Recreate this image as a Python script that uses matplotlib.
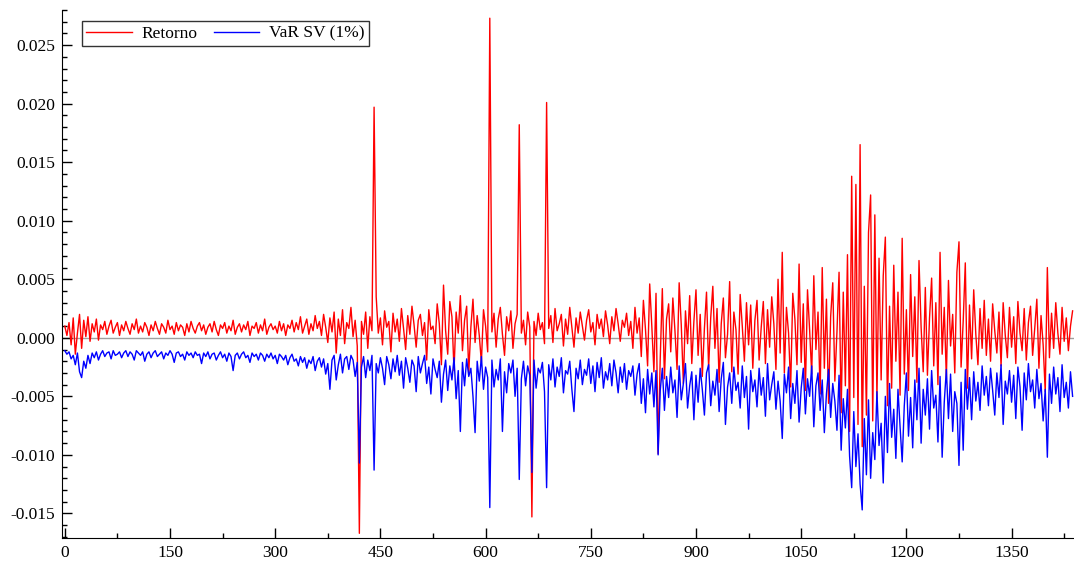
import numpy as np
import matplotlib
matplotlib.use("Agg")
import matplotlib.pyplot as plt
from matplotlib.ticker import MultipleLocator, FormatStrFormatter

# observations read every 3 periods, values in units of 1e-3
step = 3

retorno = [
    1.0, 0.2, 1.3, -0.6, 1.7, -1.4, 0.4, 2.0, -0.9, 1.5,
    0.1, 1.8, -0.3, 1.2, 0.5, 1.6, -0.2, 1.1, 0.7, 1.4,
    0.3, 1.0, 1.5, 0.4, 0.9, 1.3, 0.2, 1.1, 0.6, 1.4,
    0.8, 0.3, 1.2, 0.7, 1.6, 0.4, 1.0, 0.5, 1.3, 0.9,
    0.2, 1.1, 0.6, 1.4, 0.8, 0.3, 1.2, 0.9, 0.4, 1.5,
    0.7, 1.0, 0.3, 1.3, 0.6, 1.1, 0.9, 0.2, 1.2, 0.5,
    1.4, 0.8, 0.4, 1.0, 1.3, 0.6, 1.1, 0.3, 0.9, 1.2,
    0.5, 1.4, 0.7, 0.2, 1.1, 0.8, 1.3, 0.4, 1.0, 0.6,
    1.5, 0.3, 0.9, 1.2, 0.5, 1.1, 0.7, 1.4, 0.2, 1.0,
    0.8, 1.3, 0.4, 1.1, 0.6, 1.6, 0.3, 0.9, 1.2, 0.7,
    1.0, 0.4, 1.4, 0.6, 1.2, 0.2, 1.1, 0.8, 1.5, 0.5,
    1.3, 0.7, 1.8, 0.4, 1.0, 1.6, 0.3, 1.2, 0.6, 1.9,
    0.8, 1.4, 0.2, 2.0, 0.9, -0.4, 1.7, 0.5, 2.2, -1.3,
    1.6, 0.2, 2.4, -0.5, 1.3, 0.8, 2.6, 0.1, 1.5, -0.7,
    -16.7, 1.4, 0.3, 2.2, -0.9, 1.8, 0.6, 19.7, 3.5, 0.4,
    1.7, -0.6, 2.3, 0.9, 1.4, -1.2, 2.1, 0.5, 1.6, -0.3,
    2.5, 0.8, -1.0, 1.9, 0.3, 2.7, 1.1, -0.8, 1.5, 2.0,
    0.2, 1.3, -1.9, 2.4, 0.7, 1.0, -0.5, 2.9, 1.2, -2.3,
    4.5, 0.6, -1.4, 3.1, 1.8, -2.8, 2.2, 0.4, 3.6, -1.1,
    1.5, 2.7, -3.0, 0.9, 3.3, -0.4, 1.9, 0.2, -2.1, 2.4,
    1.0, -1.2, 27.3, 0.5, 2.1, -0.8, 1.6, 2.6, 0.3, -1.5,
    1.8, 0.6, 2.3, -0.9, 1.2, 2.0, 18.2, 0.4, 1.5, -0.6,
    2.2, 0.9, -15.3, 1.4, 0.2, 2.1, 0.7, 1.3, -0.5, 20.1,
    0.8, 1.9, -0.4, 2.5, 0.6, 1.2, 2.0, -0.7, 1.6, 0.3,
    2.6, 0.9, -0.8, 1.7, 0.4, 2.2, 1.0, -0.2, 1.5, 2.4,
    0.5, 1.3, -0.6, 2.0, 0.8, 1.6, 0.1, 2.3, 1.1, -0.5,
    1.8, 0.6, 2.5, 1.2, -0.3, 1.5, 0.9, 2.1, 0.2, 1.4,
    -0.9, 2.6, 0.4, 1.7, -1.6, 3.2, 0.7, -2.4, 4.6, 1.0,
    -2.9, 3.8, -9.9, -1.8, 4.2, -3.5, 1.6, 2.9, -1.2, 3.4,
    0.6, -2.7, 4.7, 1.1, -3.9, 2.3, -0.5, 3.6, -2.2, 1.4,
    4.1, -1.5, 2.0, -3.3, 0.8, 3.9, -2.6, 1.7, 4.4, -0.9,
    2.5, -3.8, 1.2, 3.4, -1.7, 0.3, 4.8, -2.9, 2.2, 0.7,
    -3.1, 3.7, 1.0, -2.0, 3.0, -0.6, 2.8, -2.6, 1.5, 3.2,
    -1.9, 0.9, 3.1, -2.2, 2.4, -0.8, 3.5, 1.2, -2.7, 5.0,
    -1.3, 7.3, -3.0, 2.6, 0.4, -4.2, 3.8, 1.6, -2.3, 6.3,
    -2.1, 2.9, -4.5, 4.1, 0.7, -3.1, 5.3, -1.0, 2.2, -4.8,
    6.0, -2.6, 3.3, -5.6, 1.8, 4.7, -3.7, 0.5, 5.6, -6.4,
    3.9, -4.1, 7.1, -8.0, 13.8, -5.1, 13.1, -7.4, 16.5, -9.3,
    4.4, -6.6, 9.0, 12.2, -7.1, 10.5, -5.2, 6.8, -3.6, 5.3,
    8.6, -5.8, 2.7, -4.3, 6.2, -2.0, 3.9, -4.9, 8.5, -3.1,
    2.4, -4.5, 5.4, -1.6, 3.5, -3.8, 6.6, 0.9, -2.9, 4.3,
    -3.2, 1.7, 5.1, -2.4, 3.0, -4.0, 7.3, -1.4, 2.6, -3.5,
    4.9, -0.7, 2.0, -3.0, 5.6, 8.2, -2.5, 1.4, 6.4, -4.3,
    2.8, -1.8, 4.1, 0.3, -2.3, 2.5, -0.9, 3.2, -1.5, 1.6,
    -2.0, 2.9, 0.6, -1.3, 2.2, -2.4, 3.0, 0.2, -1.7, 2.6,
    -0.8, 1.8, -2.2, 3.1, 0.4, -1.1, 2.5, -1.9, 1.3, 2.7,
    -1.5, 0.8, 3.3, -2.6, 1.9, -0.6, -4.6, 6.0, -1.7, 2.1,
    -0.9, 3.0, 0.4, -1.4, 2.6, -0.3, 1.7, -1.1, 1.0, 2.3,
]

var_sv = [
    -1.1, -1.4, -1.2, -1.8, -1.5, -2.3, -1.3, -2.9, -3.4, -2.0,
    -2.6, -1.5, -2.2, -1.3, -1.7, -1.2, -1.9, -1.4, -1.1, -1.6,
    -1.3, -1.2, -1.8, -1.1, -1.5, -1.4, -1.2, -1.7, -1.3, -1.1,
    -1.6, -1.2, -1.4, -1.9, -1.1, -1.3, -1.5, -1.2, -2.0, -1.4,
    -1.2, -1.7, -1.3, -1.1, -1.6, -1.4, -1.2, -1.8, -1.3, -1.5,
    -1.1, -1.4, -2.1, -1.3, -1.2, -1.6, -1.4, -1.9, -1.2, -1.5,
    -1.3, -1.7, -1.2, -1.5, -1.4, -2.2, -1.3, -1.6, -1.2, -1.8,
    -1.4, -1.3, -1.9, -1.5, -1.2, -1.7, -1.4, -2.0, -1.3, -1.6,
    -2.8, -1.5, -1.3, -1.8, -1.4, -1.2, -1.7, -1.5, -2.1, -1.3,
    -1.6, -1.4, -1.9, -1.3, -1.5, -2.0, -1.4, -1.7, -1.3, -1.8,
    -1.5, -2.2, -1.4, -1.6, -1.9, -1.5, -2.3, -1.7, -1.4, -2.0,
    -1.8, -2.4, -1.6, -2.1, -1.7, -2.6, -1.9, -2.2, -1.6, -2.8,
    -2.0, -1.7, -2.5, -1.8, -3.1, -2.2, -4.4, -1.9, -1.5, -3.6,
    -2.3, -1.4, -3.0, -1.8, -1.6, -2.7, -1.5, -1.9, -3.3, -2.1,
    -10.7, -2.5, -1.6, -3.4, -1.9, -2.8, -1.5, -11.3, -2.2, -3.0,
    -1.7, -2.6, -4.0, -1.6, -2.3, -3.5, -1.8, -2.9, -1.5, -3.2,
    -2.0, -4.3, -1.7, -2.6, -3.8, -1.9, -2.4, -4.6, -1.6, -3.0,
    -2.2, -1.5, -3.9, -2.5, -4.8, -1.8, -2.7, -3.4, -2.0, -5.5,
    -3.1, -1.9, -4.5, -2.4, -3.6, -1.7, -5.2, -2.8, -8.0, -2.1,
    -4.1, -1.8, -3.3, -2.6, -5.0, -8.1, -2.0, -3.7, -1.6, -4.4,
    -2.5, -3.4, -14.5, -1.9, -4.2, -2.7, -3.6, -1.8, -8.0, -2.9,
    -4.7, -2.2, -3.0, -1.9, -5.0, -2.6, -12.1, -3.5, -2.0, -4.1,
    -2.4, -3.2, -11.5, -1.9, -4.3, -2.6, -3.0, -2.1, -4.6, -12.8,
    -2.3, -3.6, -1.8, -4.2, -2.5, -3.3, -1.7, -4.7, -2.8, -3.1,
    -2.0, -4.4, -6.3, -2.6, -3.5, -1.9, -4.0, -2.7, -3.2, -1.8,
    -3.9, -2.4, -4.6, -2.1, -3.4, -1.7, -4.3, -2.9, -3.6, -2.2,
    -4.1, -1.9, -3.0, -4.7, -2.5, -3.8, -2.2, -4.4, -2.8, -3.3,
    -2.4, -4.9, -3.1, -2.2, -5.6, -3.5, -6.4, -2.7, -4.8, -3.0,
    -5.9, -2.8, -10.0, -4.5, -2.6, -6.2, -3.3, -5.1, -2.5, -4.7,
    -3.6, -6.8, -2.4, -5.3, -3.9, -2.2, -6.0, -4.1, -2.9, -7.0,
    -3.2, -5.5, -2.6, -4.4, -6.6, -3.0, -2.3, -5.8, -3.7, -4.9,
    -2.7, -6.3, -3.5, -2.1, -7.4, -4.2, -3.0, -5.6, -2.5, -4.5,
    -3.8, -6.0, -2.4, -5.1, -3.3, -7.8, -2.8, -4.6, -3.6, -5.9,
    -2.6, -4.9, -3.4, -6.7, -2.2, -5.3, -4.0, -2.9, -6.1, -3.7,
    -5.4, -8.6, -3.1, -4.7, -2.5, -6.9, -3.9, -5.6, -2.8, -7.2,
    -4.3, -2.6, -6.5, -3.5, -5.0, -2.4, -7.6, -4.1, -3.0, -6.2,
    -3.6, -8.1, -4.8, -2.7, -6.8, -3.9, -5.4, -7.9, -3.2, -9.6,
    -5.2, -7.7, -4.4, -10.1, -12.8, -6.3, -11.0, -8.2, -12.5, -14.7,
    -6.9, -11.7, -5.3, -12.0, -8.1, -10.4, -4.6, -9.2, -7.3, -12.4,
    -5.0, -9.8, -3.9, -8.5, -6.1, -10.3, -4.4, -7.6, -10.6, -5.8,
    -3.0, -8.4, -5.1, -9.4, -3.6, -7.0, -2.6, -9.0, -4.4, -6.6,
    -3.5, -7.8, -2.8, -6.0, -4.9, -8.9, -3.3, -10.2, -5.5, -2.7,
    -6.9, -3.1, -8.0, -4.6, -5.6, -10.9, -3.8, -9.6, -2.7, -6.1,
    -3.4, -7.0, -2.9, -5.4, -3.8, -6.2, -2.4, -4.9, -3.3, -5.8,
    -2.6, -4.5, -6.6, -3.0, -5.1, -2.3, -7.4, -3.7, -4.8, -2.8,
    -5.5, -3.2, -6.9, -2.5, -4.2, -7.9, -3.0, -5.3, -2.2, -4.6,
    -3.6, -6.0, -2.7, -5.2, -3.9, -7.1, -4.4, -10.2, -3.1, -5.6,
    -2.5, -4.8, -3.4, -6.3, -2.3, -5.1, -3.8, -6.0, -2.9, -5.0,
]

ret = np.array(retorno) * 1e-3
var = np.array(var_sv) * 1e-3
t = np.arange(len(ret)) * step

plt.rcParams["font.family"] = ["Liberation Serif", "DejaVu Serif"]
plt.rcParams["axes.unicode_minus"] = False

fig = plt.figure(figsize=(10.74, 5.62), dpi=100)
ax = fig.add_axes([62 / 1074, 24 / 562, 1 - 62 / 1074, 528 / 562])

ax.axhline(0, color="#a0a0a0", lw=1.0, zorder=1)
ax.plot(t, ret, color="red", lw=1.0, label="Retorno", zorder=2)
ax.plot(t, var, color="blue", lw=1.0, label="VaR SV (1%)", zorder=3)

ax.set_xlim(-4, 1439)
ax.set_ylim(-0.0171, 0.0280)

ax.xaxis.set_major_locator(MultipleLocator(150))
ax.xaxis.set_minor_locator(MultipleLocator(75))
ax.yaxis.set_major_locator(MultipleLocator(0.005))
ax.yaxis.set_minor_locator(MultipleLocator(0.001))
ax.yaxis.set_major_formatter(FormatStrFormatter("%.3f"))

for side in ["top", "right"]:
    ax.spines[side].set_visible(False)
ax.tick_params(which="both", direction="in", labelsize=12.5, width=1)
ax.tick_params(which="major", length=7, pad=5)
ax.tick_params(which="minor", length=3.5)

leg = ax.legend(loc="upper left", bbox_to_anchor=(0.0198, 0.979), ncol=2,
                fontsize=12.5, frameon=True, fancybox=False,
                borderaxespad=0, handlelength=2.6, borderpad=0.25,
                columnspacing=0.9, handletextpad=0.6)
leg.get_frame().set_edgecolor("black")
leg.get_frame().set_linewidth(1.0)

fig.savefig("out.png", dpi=100)
